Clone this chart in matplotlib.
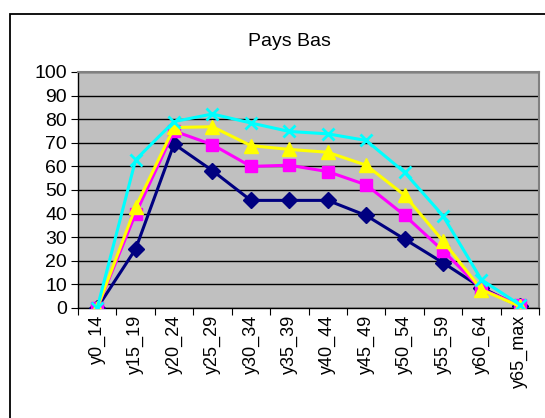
import matplotlib
matplotlib.use("Agg")
import matplotlib.pyplot as plt
from matplotlib.patches import Rectangle

# Taux d'activite par tranche d'age - Pays Bas
categories = ["y0_14", "y15_19", "y20_24", "y25_29", "y30_34", "y35_39",
              "y40_44", "y45_49", "y50_54", "y55_59", "y60_64", "y65_max"]
serie_navy = [0, 25, 69.5, 58.2, 45.6, 45.6, 45.6, 39.2, 29.2, 19.2, 8.6, 0.7]
serie_magenta = [0, 40, 75, 69.2, 60, 60.5, 57.8, 52.2, 39.3, 24.3, 8.0, 1.2]
serie_yellow = [0, 42.8, 76.5, 76.8, 68.8, 67.2, 66, 60.5, 47.8, 28.4, 7.8, 0.7]
serie_cyan = [0, 62.8, 79, 82.2, 78.4, 74.8, 73.8, 71.0, 57.5, 39.1, 12, 1.4]
yticks = list(range(0, 101, 10))

plt.rcParams["font.family"] = ["Liberation Sans", "DejaVu Sans"]

fig = plt.figure(figsize=(5.45, 4.18), dpi=100)
W, H = 545.0, 418.0

# outer chart frame (runs off the image at right and bottom)
fig.patches.append(Rectangle((10 / W, -0.1), 1.0, (H - 14) / H + 0.1,
                             transform=fig.transFigure, fill=False,
                             edgecolor="black", linewidth=1.3))

ax = fig.add_axes([78 / W, (H - 308) / H, (539 - 78) / W, (308 - 72) / H])
ax.set_facecolor("#C0C0C0")

x = list(range(len(categories)))
ax.plot(x, serie_navy, color="#000080", lw=2.2, marker="D", ms=8.5,
        markeredgecolor="#000080", zorder=3)
ax.plot(x, serie_magenta, color="#FF00FF", lw=2.2, marker="s", ms=9,
        markeredgecolor="#FF00FF", zorder=4)
ax.plot(x, serie_yellow, color="#FFFF00", lw=2.2, marker="^", ms=10,
        markeredgecolor="#FFFF00", zorder=5)
ax.plot(x, serie_cyan, color="#00FFFF", lw=2.2, marker="x", ms=9,
        markeredgewidth=2, zorder=6)

ax.set_xlim(-0.5, len(categories) - 0.5)
ax.set_ylim(0, 100)
ax.set_yticks(yticks)
ax.set_yticklabels([str(v) for v in yticks], fontsize=14)
ax.yaxis.grid(True, color="black", lw=1)
ax.set_axisbelow(True)

ax.set_xticks([i + 0.5 for i in range(-1, len(categories))])
ax.set_xticklabels([])
ax.set_xticks(x, minor=True)
ax.set_xticklabels(categories, minor=True, rotation=90, fontsize=13)
ax.tick_params(axis="x", which="minor", length=0, pad=5)
ax.tick_params(axis="x", which="major", length=5, direction="out")
ax.tick_params(axis="y", length=5, direction="out", pad=3)

for side in ["top", "right"]:
    ax.spines[side].set_color("#808080")
    ax.spines[side].set_linewidth(1.5)
for side in ["left", "bottom"]:
    ax.spines[side].set_color("black")
    ax.spines[side].set_linewidth(1)

fig.text(289 / W, 1 - 42 / H, "Pays Bas", ha="center", va="center", fontsize=14)

fig.savefig("out.png", dpi=100)
